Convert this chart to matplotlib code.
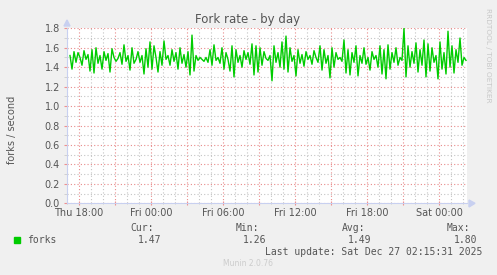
import matplotlib
matplotlib.use("Agg")
import matplotlib.pyplot as plt
import numpy as np

# fork rate, one value per 10 minutes, Thu 17:15 .. Sat 02:15
forks = [
    1.52, 1.38, 1.56, 1.45, 1.55, 1.50, 1.42, 1.57, 1.48, 1.53, 1.36, 1.58, 1.34, 1.60, 1.44, 1.52, 1.38, 1.56, 1.47, 1.54, 1.35, 1.59, 1.50, 1.46,
    1.49, 1.55, 1.43, 1.63, 1.46, 1.52, 1.37, 1.60, 1.44, 1.48, 1.56, 1.45, 1.52, 1.33, 1.59, 1.40, 1.66, 1.38, 1.62, 1.50, 1.35, 1.56, 1.42, 1.67, 1.48,
    1.52, 1.42, 1.58, 1.46, 1.55, 1.38, 1.60, 1.44, 1.53, 1.40, 1.56, 1.32, 1.73, 1.36, 1.52, 1.47, 1.50, 1.48, 1.46, 1.50, 1.45, 1.58, 1.42, 1.63, 1.47,
    1.50, 1.44, 1.60, 1.38, 1.55, 1.48, 1.36, 1.62, 1.30, 1.58, 1.45, 1.52, 1.40, 1.57, 1.48, 1.55, 1.43, 1.64, 1.32, 1.62, 1.35, 1.60, 1.42, 1.56, 1.49,
    1.47, 1.52, 1.26, 1.62, 1.45, 1.55, 1.40, 1.66, 1.38, 1.72, 1.35, 1.60, 1.46, 1.52, 1.31, 1.58, 1.44, 1.53, 1.41, 1.56, 1.48, 1.52, 1.43, 1.57, 1.50,
    1.45, 1.62, 1.37, 1.58, 1.44, 1.52, 1.29, 1.60, 1.40, 1.55, 1.48, 1.50, 1.46, 1.68, 1.34, 1.58, 1.32, 1.55, 1.45, 1.62, 1.31, 1.52, 1.44, 1.60, 1.43,
    1.50, 1.37, 1.56, 1.48, 1.52, 1.40, 1.62, 1.33, 1.58, 1.28, 1.63, 1.38, 1.55, 1.45, 1.60, 1.42, 1.50, 1.47, 1.80, 1.30, 1.62, 1.40, 1.56, 1.44, 1.65,
    1.35, 1.58, 1.42, 1.68, 1.30, 1.64, 1.36, 1.60, 1.45, 1.52, 1.28, 1.66, 1.38, 1.55, 1.33, 1.77, 1.40, 1.62, 1.34, 1.58, 1.45, 1.70, 1.42, 1.50, 1.47,
]
# hours since Thu 17:00
t0 = 0.25
step = 1.0 / 6
x_labels = ["Thu 18:00", "Fri 00:00", "Fri 06:00", "Fri 12:00", "Fri 18:00", "Sat 00:00"]
x_label_pos = [1, 7, 13, 19, 25, 31]
stats = {"Cur:": "1.47", "Min:": "1.26", "Avg:": "1.49", "Max:": "1.80"}

W, H = 497, 275
fig = plt.figure(figsize=(W / 100, H / 100), dpi=100, facecolor="#f0f0f0")
L, R, T, B = 67, 467, 28.3, 203.3
ax = fig.add_axes([L / W, 1 - B / H, (R - L) / W, (B - T) / H])
ax.set_facecolor("white")

x = t0 + step * np.arange(len(forks))
ax.plot(x, forks, color="#00cc00", lw=1.0, zorder=3)

ax.set_xlim(0, 400 * 5 / 60)
ax.set_ylim(0, 1.8)

# grid: grey every hour / 0.1, red every 3 hours / 0.2
ax.set_xticks(np.arange(1, 34, 3))
ax.set_xticks(np.arange(0, 34, 1), minor=True)
ax.set_xticklabels([x_labels[x_label_pos.index(p)] if p in x_label_pos else "" for p in range(1, 34, 3)])
ax.set_yticks(np.arange(0, 1.81, 0.2))
ax.set_yticks(np.arange(0, 1.81, 0.1), minor=True)
ax.set_yticklabels(["%.1f" % v for v in np.arange(0, 1.81, 0.2)])
ax.grid(which="minor", color="#c4c4c4", lw=0.8, ls=(0, (1, 2)), zorder=0)
ax.grid(which="major", color="#e88a8a", lw=0.8, ls=(0, (1, 2)), zorder=1)
ax.tick_params(which="major", axis="x", length=3, color="#ee9090", labelsize=7, labelcolor="#555555", pad=2, direction="inout")
ax.tick_params(which="minor", axis="x", length=2, color="#cccccc", direction="inout")
ax.tick_params(which="major", axis="y", length=2, color="#ee9090", labelsize=7, labelcolor="#555555", pad=3)
ax.tick_params(which="minor", axis="y", length=2, color="#cccccc")

for s in ["top", "right"]:
    ax.spines[s].set_visible(False)
for s in ["left", "bottom"]:
    ax.spines[s].set_color("#c8d0f0")
    ax.spines[s].set_linewidth(0.8)
# arrow heads on the axes
fig.patches.append(plt.Polygon([(L / W - 3 / W, 1 - 26 / H), (L / W + 3 / W, 1 - 26 / H), (L / W, 1 - 20 / H)],
                               closed=True, transform=fig.transFigure, color="#c8d0f0"))
fig.patches.append(plt.Polygon([(469 / W, 1 - 200 / H), (469 / W, 1 - 207 / H), (475 / W, 1 - B / H)],
                               closed=True, transform=fig.transFigure, color="#c8d0f0"))

fig.text(248 / W, 1 - 19 / H, "Fork rate - by day", ha="center", va="center", fontsize=8.5, color="#555555")
fig.text(12 / W, 1 - 130 / H, "forks / second", rotation=90, ha="center", va="center", fontsize=7, color="#555555")
fig.text(488 / W, 1 - 55 / H, "RRDTOOL / TOBI OETIKER", rotation=270, ha="center", va="center", fontsize=5.3, color="#c8c8c8")

mono = "DejaVu Sans Mono"
head_x = [154, 259, 365, 470]
val_x = [161, 266, 371, 477]
for (k, v), hx, vx in zip(stats.items(), head_x, val_x):
    fig.text(hx / W, 1 - 228 / H, k, ha="right", va="center", fontsize=7, family=mono, color="#555555")
    fig.text(vx / W, 1 - 240 / H, v, ha="right", va="center", fontsize=7, family=mono, color="#555555")
fig.patches.append(plt.Rectangle((14 / W, 1 - 243 / H), 6 / W, 6 / H, transform=fig.transFigure, color="#00cc00"))
fig.text(27 / W, 1 - 240 / H, "forks", ha="left", va="center", fontsize=7, family=mono, color="#555555")
fig.text(482 / W, 1 - 252 / H, "Last update: Sat Dec 27 02:15:31 2025", ha="right", va="center", fontsize=7, family=mono, color="#555555")
fig.text(248 / W, 1 - 264 / H, "Munin 2.0.76", ha="center", va="center", fontsize=5.5, color="#cccccc")

fig.savefig("out.png", dpi=100, facecolor=fig.get_facecolor())
